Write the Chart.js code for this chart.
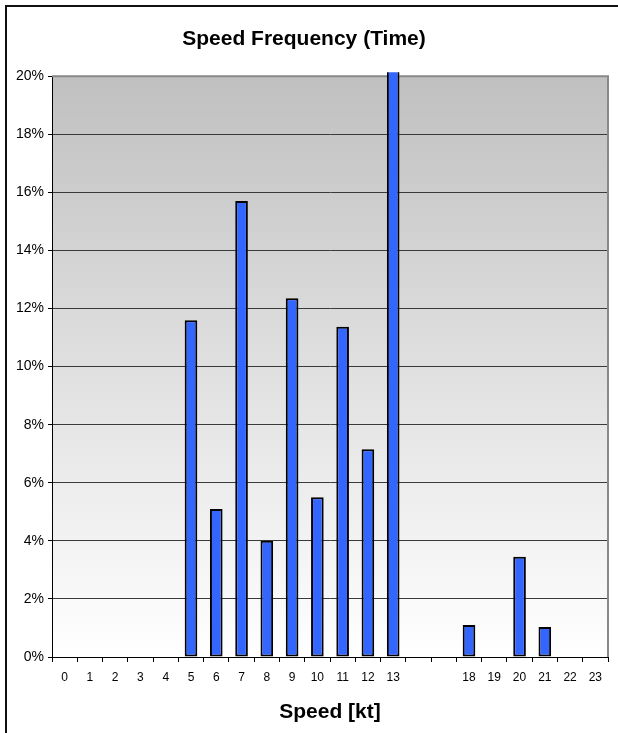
<!DOCTYPE html>
<html>
<head>
<meta charset="utf-8">
<script src="https://cdn.jsdelivr.net/npm/chart.js@4/dist/chart.umd.min.js"></script>
<style>
  html, body { margin: 0; padding: 0; background: #fff; }
  #wrap { width: 618px; height: 733px; position: relative; }
</style>
</head>
<body>
<div id="wrap"><canvas id="speedChart" width="618" height="733"></canvas></div>
<script>
// speed categories (kt) — two empty slots between 13 and 18 as in the original
const speeds = ["0", "1", "2", "3", "4", "5", "6", "7", "8", "9", "10", "11", "12", "13", "", "", "18", "19", "20", "21", "22", "23"];
// share of time per speed, percent (13 kt runs off the top of the axis)
const timeShare = [0, 0, 0, 0, 0, 11.6, 5.1, 15.7, 4.0, 12.35, 5.5, 11.37, 7.15, 21, null, null, 1.1, 0, 3.45, 1.03, 0, 0];
const yTicks = [0, 2, 4, 6, 8, 10, 12, 14, 16, 18, 20];

const FONT = "'Liberation Sans', Arial, sans-serif";

// grey-to-white plot background, plot frame and outer chart border
const plotDecor = {
  id: "plotDecor",
  beforeDraw(chart) {
    const { ctx, chartArea: a } = chart;
    const g = ctx.createLinearGradient(0, a.top, 0, a.bottom);
    g.addColorStop(0, "#c0c0c0");
    g.addColorStop(1, "#ffffff");
    ctx.save();
    ctx.fillStyle = g;
    ctx.fillRect(a.left, a.top, a.right - a.left, a.bottom - a.top);
    ctx.restore();
  },
  beforeDatasetsDraw(chart) {
    const { ctx, chartArea: a } = chart;
    ctx.save();
    ctx.strokeStyle = "#888888";
    ctx.lineWidth = 2;
    ctx.beginPath();
    ctx.moveTo(a.left, a.top);
    ctx.lineTo(a.right, a.top);
    ctx.lineTo(a.right, a.bottom);
    ctx.stroke();
    ctx.restore();
  },
  afterDraw(chart) {
    const { ctx, width, height } = chart;
    ctx.save();
    ctx.strokeStyle = "#111";
    ctx.lineWidth = 2;
    ctx.beginPath();
    ctx.moveTo(6, height);
    ctx.lineTo(6, 6);
    ctx.lineTo(width, 6);
    ctx.stroke();
    ctx.restore();
  },
};

const canvas = document.getElementById("speedChart");
new Chart(canvas.getContext("2d"), {
  type: "bar",
  data: {
    labels: speeds,
    datasets: [
      {
        label: "Time",
        data: timeShare,
        backgroundColor: "#3366ff",
        borderColor: "#000000",
        borderWidth: 2,
        borderSkipped: false,
        barPercentage: 0.5,
        categoryPercentage: 1.0,
        clip: { left: 0, top: 4, right: 0, bottom: 0 },
      },
    ],
  },
  options: {
    responsive: false,
    animation: false,
    layout: { padding: { left: 0, right: 10, top: 0, bottom: 0 } },
    plugins: {
      legend: { display: false },
      tooltip: { enabled: false },
      title: {
        display: true,
        text: "Speed Frequency (Time)",
        color: "#000",
        font: { family: FONT, size: 21, weight: "bold", lineHeight: 1.2 },
        padding: { top: 27, bottom: 24 },
      },
    },
    scales: {
      x: {
        grid: {
          drawOnChartArea: false,
          drawTicks: true,
          tickLength: 5,
          color: "#000",
          offset: true,
        },
        border: { display: true, color: "#000", width: 1 },
        ticks: {
          color: "#000",
          font: { family: FONT, size: 12 },
          padding: 8,
          maxRotation: 0,
          autoSkip: false,
        },
        title: {
          display: true,
          text: "Speed [kt]",
          color: "#000",
          font: { family: FONT, size: 21, weight: "bold", lineHeight: 1.2 },
          padding: { top: 0, bottom: 8 },
        },
        afterFit(scale) { scale.height = 76; },
      },
      y: {
        min: 0,
        max: 20,
        afterBuildTicks(scale) { scale.ticks = yTicks.map((v) => ({ value: v })); },
        grid: {
          color: (c) => (c.tick && c.tick.value === 20 ? "rgba(0,0,0,0)" : "#3a3a3a"),
          lineWidth: 1,
          drawTicks: true,
          tickLength: 4,
          tickColor: "#000",
        },
        border: { display: true, color: "#000", width: 1 },
        ticks: {
          color: "#000",
          font: { family: FONT, size: 14 },
          padding: 4,
          callback: (v) => v + "%",
        },
        afterFit(scale) { scale.width = 52; },
      },
    },
  },
  plugins: [plotDecor],
});
</script>
</body>
</html>
